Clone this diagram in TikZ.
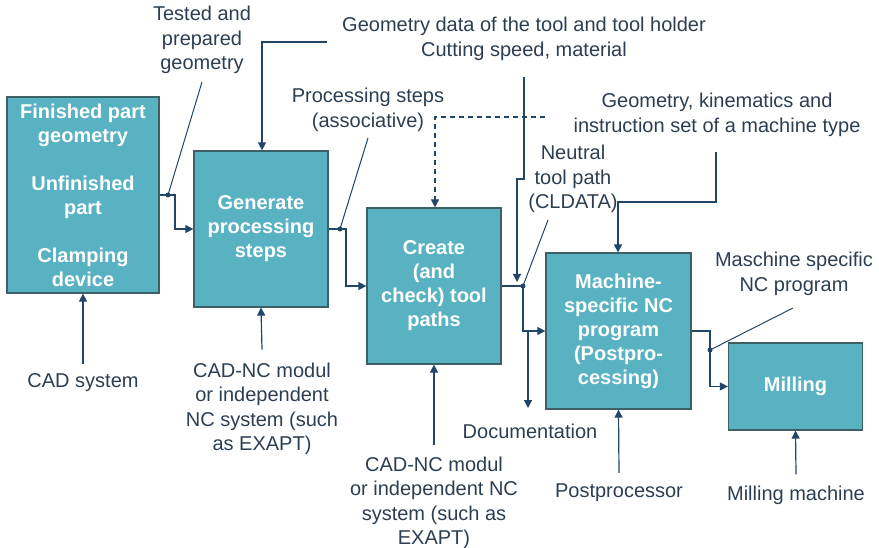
\documentclass[tikz,border=0pt]{standalone}
\usepackage{fontspec}
\setmainfont{Liberation Sans}
\usetikzlibrary{arrows.meta}
\definecolor{boxfill}{HTML}{58B2C2}
\definecolor{boxedge}{HTML}{3D5F66}
\definecolor{wire}{HTML}{22466A}
\definecolor{labeltext}{HTML}{2C3E52}
\tikzset{
  procbox/.style={draw=boxedge, line width=1.2pt, fill=boxfill, text=white,
    font=\fontsize{20}{24}\selectfont\bfseries, align=center, inner sep=0pt},
  lbl/.style={text=labeltext, font=\fontsize{20}{24.5}\selectfont, align=center, inner sep=0pt},
  flow/.style={draw=wire, line width=1.2pt, -{Triangle[length=8pt,width=8pt]}},
  plain/.style={draw=wire, line width=1.2pt},
  leader/.style={draw=wire, line width=1pt},
  dashflow/.style={draw=wire, line width=1.2pt, dashed, dash pattern=on 5pt off 4pt,
    -{Triangle[length=8pt,width=8pt]}},
  joint/.style={circle, fill=wire, inner sep=0pt, minimum size=5pt}
}
\begin{document}
\begin{tikzpicture}[x=1pt, y=-1pt]
\useasboundingbox (0,0) rectangle (879,548);

% process boxes
\node[procbox, minimum width=152pt, minimum height=196pt] (b1) at (83,195)
  {Finished part\\geometry\\[24pt]Unfinished\\part\\[24pt]Clamping\\device};
\node[procbox, minimum width=134pt, minimum height=156pt] (b2) at (261,229)
  {Generate\\processing\\steps};
\node[procbox, minimum width=134pt, minimum height=156pt] (b3) at (434,286)
  {Create\\(and\\check) tool\\paths};
\node[procbox, minimum width=145pt, minimum height=156pt] (b4) at (618.5,331)
  {Machine-\\specific NC\\program\\(Postpro-\\cessing)};
\node[procbox, minimum width=134pt, minimum height=87pt] (b5) at (795.5,386.5)
  {Milling};

% labels
\node[lbl] (ltested) at (202,40) {Tested and\\prepared\\geometry};
\node[lbl] (lgeo) at (524,39) {Geometry data of the tool and tool holder\\Cutting speed, material};
\node[lbl] (lsteps) at (368,110) {Processing steps\\(associative)};
\node[lbl] (lneutral) at (573,179) {Neutral\\tool path\\(CLDATA)};
\node[lbl] (lmach) at (717,115) {Geometry, kinematics and\\instruction set of a machine type};
\node[lbl] (lnc) at (794,274) {Maschine specific\\NC program};
\node[lbl] (ldoc) at (530,431) {Documentation};
\node[lbl] (lcad) at (83,383) {CAD system};
\node[lbl] (lcadnc1) at (262,409) {CAD-NC modul\\or independent\\NC system (such\\as EXAPT)};
\node[lbl] (lcadnc2) at (434,503) {CAD-NC modul\\or independent NC\\system (such as\\EXAPT)};
\node[lbl] (lpost) at (619,493) {Postprocessor};
\node[lbl] (lmill) at (796,495) {Milling machine};

% bend points and junctions
\coordinate (j1) at (175,195);
\coordinate (d1) at (168,195);
\coordinate (t1) at (202,82);
\coordinate (j2) at (346,229);
\coordinate (d2) at (340,229);
\coordinate (t2) at (368,138);
\coordinate (j3) at (523,286);
\coordinate (t3) at (548,220);
\coordinate (j4) at (710,331);
\coordinate (d4) at (710,350);
\coordinate (t4) at (793,308);
\coordinate (g1) at (327,42);
\coordinate (g2) at (262,42);
\coordinate (c1) at (524,77);
\coordinate (c2) at (524,179);
\coordinate (c3) at (517,179);
\coordinate (c4) at (517,282);
\coordinate (s1) at (545,117);
\coordinate (s2) at (435,117);
\coordinate (m1) at (716,152);
\coordinate (m2) at (716,202);
\coordinate (m3) at (618,202);
\coordinate (doc1) at (528,331);
\coordinate (doc2) at (528,408);

% main flow
\draw[flow] (b1.east) -- (j1) |- (b2.west);
\draw[flow] (b2.east) -- (j2) |- (b3.west);
\draw[flow] (b3.east) -- (j3) |- (b4.west);
\draw[flow] (b4.east) -- (j4) |- (b5.west);
\draw[flow] (doc1) -- (doc2);

% inputs from above
\draw[flow] (g1) -- (g2) -- (b2.north -| g2);
\draw[dashflow] (s1) -- (s2) -- (b3.north -| s2);
\draw[flow] (c1) -- (c2) -- (c3) -- (c4);
\draw[flow] (m1) -- (m2) -- (m3) -- (b4.north -| m3);

% inputs from below
\draw[flow] (lcad.north) ++(0,-10) -- (b1.south);
\draw[flow] (lcadnc1.north) ++(0,-13) -- (b2.south);
\draw[flow] (lcadnc2.north) ++(0,-12) -- (b3.south);
\draw[flow] (lpost.north) ++(0,-11) -- (b4.south);
\draw[flow] (lmill.north) ++(0,-11) -- (b5.south);

% leaders from labels to the data lines
\draw[leader] (t1) -- (d1);
\draw[leader] (t2) -- (d2);
\draw[leader] (t3) -- (j3);
\draw[leader] (t4) -- (d4);
\node[joint] at (d1) {};
\node[joint] at (d2) {};
\node[joint] at (j3) {};
\node[joint] at (d4) {};
\end{tikzpicture}
\end{document}
